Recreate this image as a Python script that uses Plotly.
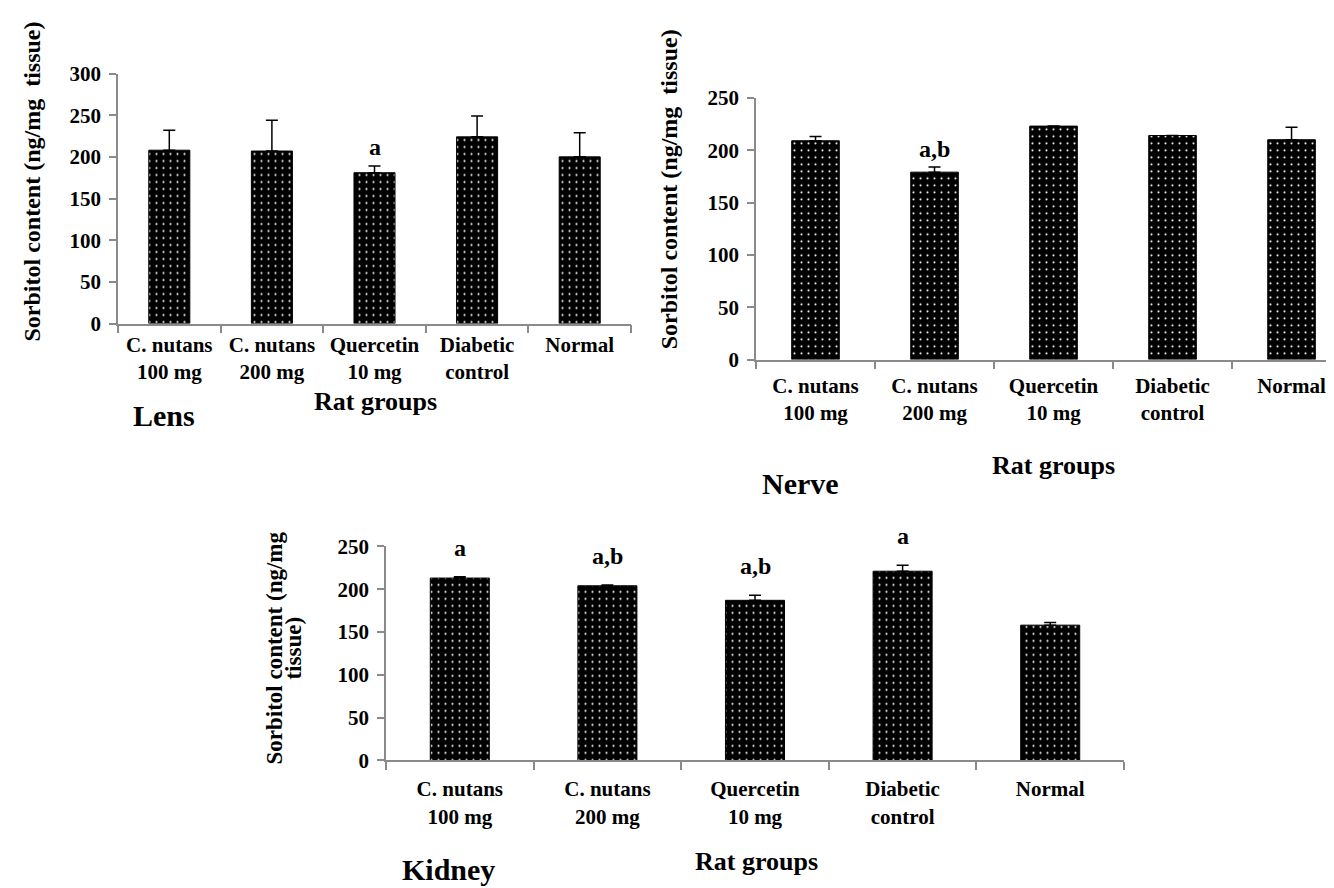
import plotly.graph_objects as go

# ---------------- data ----------------
categories = ["C. nutans<br>100 mg", "C. nutans<br>200 mg", "Quercetin<br>10 mg",
              "Diabetic<br>control", "Normal"]

lens_values = [208, 207, 181, 224, 200]
lens_err = [24, 37, 8, 25, 29]
lens_sig = ["", "", "a", "", ""]

nerve_values = [209, 179, 223, 214, 210]
nerve_err = [4, 5, 0, 0, 12]
nerve_sig = ["", "a,b", "", "", ""]

kidney_values = [213, 204, 187, 221, 158]
kidney_err = [1.5, 1, 6, 7, 3]
kidney_sig = ["a", "a,b", "a,b", "a", ""]

lens_yrange = [0, 300]
nerve_yrange = [0, 250]
kidney_yrange = [0, 250]

panel_names = ["Lens", "Nerve", "Kidney"]
x_title = "Rat groups"
y_title = "Sorbitol content (ng/mg  tissue)"

# ---------------- layout helpers ----------------
W, H = 1334, 888
FONT = "Liberation Serif"
AXCOL = "#8a8a8a"


def px(x):
    return x / W


def py(y):
    return 1 - y / H


fig = go.Figure()

panels = [
    dict(vals=lens_values, err=lens_err, sig=lens_sig, xa="x", ya="y"),
    dict(vals=nerve_values, err=nerve_err, sig=nerve_sig, xa="x2", ya="y2"),
    dict(vals=kidney_values, err=kidney_err, sig=kidney_sig, xa="x3", ya="y3"),
]

for p in panels:
    fig.add_trace(go.Bar(
        x=categories, y=p["vals"], xaxis=p["xa"], yaxis=p["ya"],
        marker=dict(color="black", line=dict(color="black", width=1),
                    pattern=dict(shape=".", fgcolor="white", bgcolor="black",
                                 size=7, solidity=0.07, fillmode="replace")),
        error_y=dict(type="data", symmetric=False, array=p["err"],
                     arrayminus=[0] * len(p["err"]), color="black",
                     thickness=1.5, width=6, visible=True),
        showlegend=False, hoverinfo="skip",
    ))

xcommon = dict(type="category", tickson="boundaries", ticks="outside", ticklen=8,
               tickcolor=AXCOL, tickwidth=1.5, showline=True, linecolor=AXCOL,
               linewidth=1.5, showgrid=False, zeroline=False, tickangle=0,
               tickfont=dict(family=FONT, size=21, color="black", weight="bold"))
ycommon = dict(ticks="outside", ticklen=7, tickcolor=AXCOL, tickwidth=1.5,
               showline=True, linecolor=AXCOL, linewidth=1.5, showgrid=False,
               zeroline=False, dtick=50,
               tickfont=dict(family=FONT, size=21, color="black", weight="bold"),
               ticklabelstandoff=4)

fig.update_layout(
    width=W, height=H, margin=dict(l=0, r=0, t=0, b=0),
    paper_bgcolor="white", plot_bgcolor="white", bargap=0.6, showlegend=False,
    xaxis=dict(xcommon, domain=[px(110), px(623)], anchor="y", range=[-0.5, 4.5],
               ticklabelstandoff=1),
    yaxis=dict(ycommon, domain=[py(312), py(55)], anchor="x", range=lens_yrange),
    xaxis2=dict(xcommon, domain=[px(748), 1.0], anchor="y2", range=[-0.5, 4.424],
                ticklabelstandoff=6),
    yaxis2=dict(ycommon, domain=[py(349), py(80)], anchor="x2", range=nerve_yrange),
    xaxis3=dict(xcommon, domain=[px(378), px(1116)], anchor="y3", range=[-0.5, 4.5],
                ticklabelstandoff=9),
    yaxis3=dict(ycommon, domain=[py(761), py(541)], anchor="x3", range=kidney_yrange),
)

ann = []
# significance letters
for p, shift in zip(panels, [4, 3, 14]):
    for c, v, e, s in zip(categories, p["vals"], p["err"], p["sig"]):
        if s:
            ann.append(dict(x=c, y=v + e, xref=p["xa"], yref=p["ya"], text=s,
                            showarrow=False, yanchor="bottom", yshift=shift,
                            font=dict(family=FONT, size=24, color="black", weight="bold")))

# x-axis titles
for (cx, cy) in [(367, 392), (1045, 458), (748, 865)]:
    ann.append(dict(x=px(cx), y=py(cy), xref="paper", yref="paper", text=x_title,
                    showarrow=False, xanchor="center", yanchor="middle",
                    font=dict(family=FONT, size=26, color="black", weight="bold")))

# panel names
for name, (cx, cy) in zip(panel_names, [(156, 406), (792, 476), (440, 873)]):
    ann.append(dict(x=px(cx), y=py(cy), xref="paper", yref="paper", text=name,
                    showarrow=False, xanchor="center", yanchor="middle",
                    font=dict(family=FONT, size=30, color="black", weight="bold")))

# y-axis titles
for (cx, cy) in [(24, 166), (661, 174)]:
    ann.append(dict(x=px(cx), y=py(cy), xref="paper", yref="paper", text=y_title,
                    textangle=-90, showarrow=False, xanchor="center", yanchor="middle",
                    font=dict(family=FONT, size=24, color="black", weight="bold")))
y_lines = y_title.replace("  ", " ").rsplit(" ", 1)
for txt, cx in zip(y_lines, [267, 286]):
    ann.append(dict(x=px(cx), y=py(646), xref="paper", yref="paper", text=txt,
                    textangle=-90, showarrow=False, xanchor="center", yanchor="middle",
                    font=dict(family=FONT, size=23, color="black", weight="bold")))

fig.update_layout(annotations=ann)
fig.write_html("out.html")
